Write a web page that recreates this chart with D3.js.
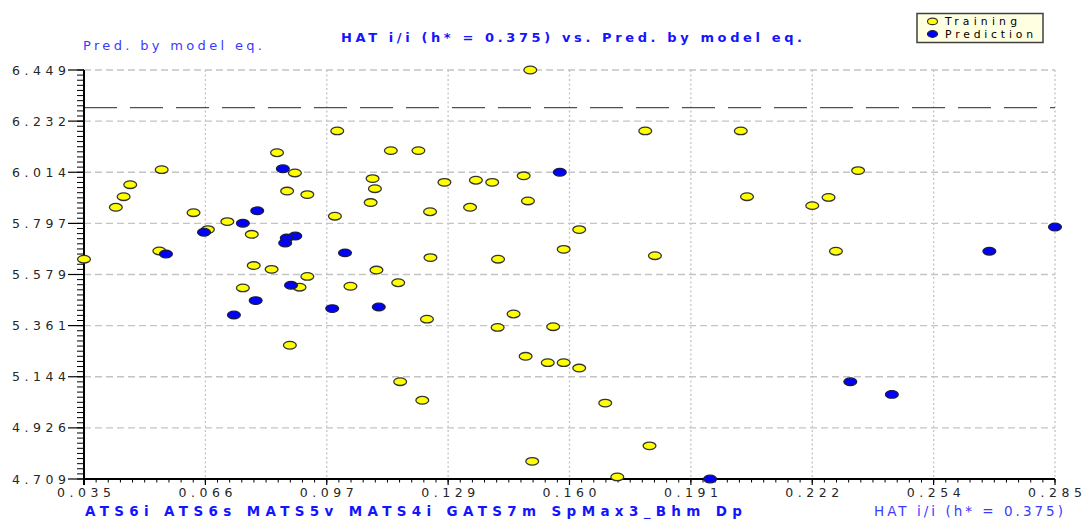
<!DOCTYPE html>
<html>
<head>
<meta charset="utf-8">
<script src="https://cdn.jsdelivr.net/npm/d3@7/dist/d3.min.js"></script>
<style>
  html, body { margin: 0; padding: 0; background: #ffffff; }
  svg { display: block; }
</style>
</head>
<body>
<svg id="chart" width="1082" height="519"></svg>
<script>
// Leverage (HAT i/i) vs. predicted value, training and prediction sets
const trainHat = [0.035, 0.0550, 0.0469, 0.0452, 0.0432, 0.0632, 0.0719, 0.0669, 0.0782, 0.0847,
  0.0893, 0.0873, 0.0925, 0.1002, 0.0996, 0.0544, 0.0787, 0.0833, 0.0925, 0.0905,
  0.0759, 0.1036, 0.0880, 0.1795, 0.1140, 0.1211, 0.1093, 0.1099, 0.1088, 0.1241,
  0.1278, 0.1359, 0.1401, 0.1482, 0.1493, 0.1344, 0.1625, 0.1585, 0.1820, 0.1242,
  0.1416, 0.1103, 0.1159, 0.1233, 0.1456, 0.1164, 0.1221, 0.1415, 0.1558, 0.1487,
  0.1544, 0.1585, 0.1625, 0.1692, 0.1806, 0.1504, 0.1723, 0.2041, 0.2343, 0.2057,
  0.2267, 0.2225, 0.2286, 0.1499];
const trainPred = [5.644, 6.025, 5.961, 5.910, 5.865, 5.842, 5.804, 5.770, 5.750, 6.097,
  6.011, 5.934, 5.919, 6.190, 5.827, 5.679, 5.617, 5.601, 5.571, 5.525,
  5.522, 5.529, 5.278, 6.190, 6.106, 6.106, 5.987, 5.944, 5.885, 5.846,
  5.971, 5.980, 5.971, 5.999, 5.892, 5.865, 5.770, 5.686, 5.659, 5.651,
  5.644, 5.598, 5.544, 5.389, 5.411, 5.123, 5.044, 5.354, 5.357, 5.231,
  5.204, 5.204, 5.181, 5.032, 4.850, 4.784, 4.718, 6.190, 6.021, 5.910,
  5.907, 5.872, 5.678, 6.449];

const testHat = [0.0759, 0.0659, 0.0796, 0.0862, 0.0894, 0.0872, 0.0868, 0.0561, 0.1022, 0.0883,
  0.0792, 0.0989, 0.0736, 0.1575, 0.1109, 0.1962, 0.2681, 0.285, 0.2323, 0.2430];
const testPred = [5.797, 5.759, 5.850, 6.029, 5.743, 5.734, 5.713, 5.666, 5.671, 5.533,
  5.468, 5.434, 5.407, 6.014, 5.441, 4.709, 5.678, 5.781, 5.123, 5.069];

// Horizontal reference level on the response axis
const refLevel = 6.289;

// Axis ticks
const xTickLabels = ["0.035", "0.066", "0.097", "0.129", "0.160", "0.191", "0.222", "0.254", "0.285"];
const yTickLabels = ["4.709", "4.926", "5.144", "5.361", "5.579", "5.797", "6.014", "6.232", "6.449"];

const xMin = 0.035, xMax = 0.285;
const yMin = 4.709, yMax = 6.449;

const svg = d3.select("#chart");
const plotL = 84, plotR = 1055, plotT = 70, plotB = 479;

const x = d3.scaleLinear().domain([xMin, xMax]).range([plotL, plotR]);
const y = d3.scaleLinear().domain([yMin, yMax]).range([plotB, plotT]);

const nDiv = xTickLabels.length - 1;
const xMajor = d3.range(nDiv + 1).map(i => xMin + i * (xMax - xMin) / nDiv);
const yMajor = d3.range(nDiv + 1).map(i => yMin + i * (yMax - yMin) / nDiv);
const xMinor = d3.range(nDiv * 10 + 1).map(i => xMin + i * (xMax - xMin) / (nDiv * 10));
const yMinor = d3.range(nDiv * 10 + 1).map(i => yMin + i * (yMax - yMin) / (nDiv * 10));

const font = "DejaVu Sans, Verdana, sans-serif";
const blue = "#1414ff";

// Grid
const grid = svg.append("g");
grid.selectAll("line.hg").data(yMajor.slice(1)).join("line")
  .attr("x1", plotL).attr("x2", plotR)
  .attr("y1", d => y(d)).attr("y2", d => y(d))
  .attr("stroke", "#c4c4c4").attr("stroke-width", 1.3)
  .attr("stroke-dasharray", "7,4");
grid.selectAll("line.vg").data(xMajor.slice(1)).join("line")
  .attr("x1", d => x(d)).attr("x2", d => x(d))
  .attr("y1", plotT).attr("y2", plotB)
  .attr("stroke", "#c4c4c4").attr("stroke-width", 1.3)
  .attr("stroke-dasharray", "2,2.5");

// Reference level
svg.append("line")
  .attr("x1", plotL).attr("x2", plotR)
  .attr("y1", y(refLevel)).attr("y2", y(refLevel))
  .attr("stroke", "#505050").attr("stroke-width", 1.3)
  .attr("stroke-dasharray", "33,13");

// Y axis
const yAxis = svg.append("g");
yAxis.append("line").attr("x1", plotL).attr("x2", plotL).attr("y1", plotT).attr("y2", plotB + 6)
  .attr("stroke", "#000").attr("stroke-width", 2);
yAxis.selectAll("line.ym").data(yMinor).join("line")
  .attr("x1", plotL - 7).attr("x2", plotL)
  .attr("y1", d => y(d)).attr("y2", d => y(d))
  .attr("stroke", "#000").attr("stroke-width", 1);
yAxis.selectAll("line.yM").data(yMajor).join("line")
  .attr("x1", plotL - 16).attr("x2", plotL)
  .attr("y1", d => y(d)).attr("y2", d => y(d))
  .attr("stroke", "#000").attr("stroke-width", 1.2);
yAxis.selectAll("text").data(yMajor).join("text")
  .attr("x", 12).attr("y", d => y(d) + 4.5)
  .attr("textLength", 54).attr("lengthAdjust", "spacing")
  .attr("font-family", font).attr("font-size", 12.5)
  .attr("fill", "#262626")
  .text((d, i) => yTickLabels[i]);

// X axis
const xAxis = svg.append("g");
xAxis.append("line").attr("x1", plotL).attr("x2", plotR).attr("y1", plotB).attr("y2", plotB)
  .attr("stroke", "#000").attr("stroke-width", 2);
xAxis.selectAll("line.xm").data(xMinor).join("line")
  .attr("x1", d => x(d)).attr("x2", d => x(d))
  .attr("y1", plotB).attr("y2", plotB + 3.5)
  .attr("stroke", "#000").attr("stroke-width", 1);
xAxis.selectAll("line.xM").data(xMajor).join("line")
  .attr("x1", d => x(d)).attr("x2", d => x(d))
  .attr("y1", plotB).attr("y2", plotB + 6)
  .attr("stroke", "#000").attr("stroke-width", 1.2);
xAxis.selectAll("text").data(xMajor).join("text")
  .attr("x", d => x(d) - 27).attr("y", 497)
  .attr("textLength", 54).attr("lengthAdjust", "spacing")
  .attr("font-family", font).attr("font-size", 12.5)
  .attr("fill", "#262626")
  .text((d, i) => xTickLabels[i]);

// Points
function drawSet(hat, pred, fill, stroke) {
  svg.append("g").selectAll("ellipse").data(hat).join("ellipse")
    .attr("cx", d => x(d))
    .attr("cy", (d, i) => y(pred[i]))
    .attr("rx", 6.4).attr("ry", 3.8)
    .attr("fill", fill)
    .attr("stroke", stroke).attr("stroke-width", 1.3);
}
drawSet(trainHat, trainPred, "#ffff00", "#333333");
drawSet(testHat, testPred, "#0000ff", "#1a1a40");

// Titles
svg.append("text").attr("x", 341).attr("y", 42)
  .attr("textLength", 461).attr("lengthAdjust", "spacing")
  .attr("font-family", font).attr("font-size", 13).attr("font-weight", "bold")
  .attr("fill", blue)
  .text("HAT i/i (h* = 0.375) vs. Pred. by model eq.");
svg.append("text").attr("x", 83).attr("y", 50)
  .attr("textLength", 179).attr("lengthAdjust", "spacing")
  .attr("font-family", font).attr("font-size", 13)
  .attr("fill", "#3a3aff")
  .text("Pred. by model eq.");
svg.append("text").attr("x", 85).attr("y", 515.5)
  .attr("textLength", 657).attr("lengthAdjust", "spacing")
  .attr("font-family", font).attr("font-size", 13.5).attr("font-weight", "bold")
  .attr("fill", blue)
  .text("ATS6i  ATS6s  MATS5v  MATS4i  GATS7m  SpMax3_Bhm  Dp");
svg.append("text").attr("x", 874).attr("y", 515.5)
  .attr("textLength", 189).attr("lengthAdjust", "spacing")
  .attr("font-family", font).attr("font-size", 13.5)
  .attr("fill", "#3a3aff")
  .text("HAT i/i (h* = 0.375)");

// Legend
const legend = svg.append("g");
legend.append("rect").attr("x", 917).attr("y", 13.5).attr("width", 126).attr("height", 29)
  .attr("fill", "#ffffe1").attr("stroke", "#404040").attr("stroke-width", 1.5);
const legendItems = [
  { name: "Training", fill: "#ffff00", stroke: "#333333", len: 72 },
  { name: "Prediction", fill: "#0000ff", stroke: "#1a1a40", len: 88 }
];
legendItems.forEach((it, i) => {
  const cy = 21.4 + i * 12.6;
  legend.append("ellipse").attr("cx", 932.5).attr("cy", cy).attr("rx", 5).attr("ry", 3.3)
    .attr("fill", it.fill).attr("stroke", it.stroke).attr("stroke-width", 1.2);
  legend.append("text").attr("x", 945).attr("y", cy + 4)
    .attr("textLength", it.len).attr("lengthAdjust", "spacing")
    .attr("font-family", font).attr("font-size", 10.8)
    .attr("fill", "#000")
    .text(it.name);
});
</script>
</body>
</html>
